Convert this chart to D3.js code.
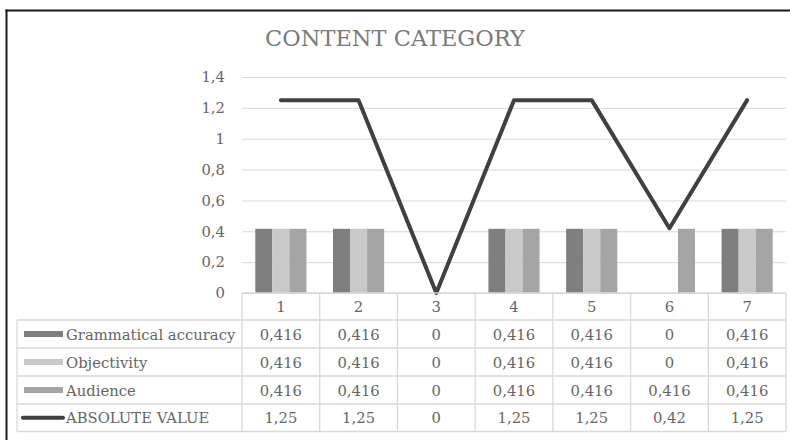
<!DOCTYPE html>
<html>
<head>
<meta charset="utf-8">
<script src="https://cdn.jsdelivr.net/npm/d3@7"></script>
<style>
  html, body { margin: 0; padding: 0; background: #fff; overflow: hidden; }
  svg { display: block; }
  text { font-family: "DejaVu Serif", "Liberation Serif", serif; fill: #666666; }
</style>
</head>
<body>
<svg id="chart" width="790" height="440"></svg>
<script>
// Chart data
const categories = ["1", "2", "3", "4", "5", "6", "7"];
const grammatical = [0.416, 0.416, 0, 0.416, 0.416, 0, 0.416];
const objectivity = [0.416, 0.416, 0, 0.416, 0.416, 0, 0.416];
const audience = [0.416, 0.416, 0, 0.416, 0.416, 0.416, 0.416];
const absoluteValue = [1.25, 1.25, 0, 1.25, 1.25, 0.42, 1.25];
const absoluteLabels = ["1,25", "1,25", "0", "1,25", "1,25", "0,42", "1,25"];
const yTicks = [0, 0.2, 0.4, 0.6, 0.8, 1, 1.2, 1.4];

const barSeries = [
  { name: "Grammatical accuracy", values: grammatical, color: "#7f7f7f" },
  { name: "Objectivity", values: objectivity, color: "#c9c9c9" },
  { name: "Audience", values: audience, color: "#a5a5a5" }
];
const lineSeries = { name: "ABSOLUTE VALUE", values: absoluteValue, labels: absoluteLabels, color: "#404040" };

const fmt = v => String(v).replace(".", ",");
const FS = "14.8px";

const svg = d3.select("#chart");

// Chart frame: only its top and left edges fall inside the view
svg.append("line").attr("x1", 5.5).attr("x2", 790).attr("y1", 10.5).attr("y2", 10.5)
  .attr("stroke", "#1a1a1a").attr("stroke-width", 2);
svg.append("line").attr("x1", 6.5).attr("x2", 6.5).attr("y1", 9.5).attr("y2", 440)
  .attr("stroke", "#1a1a1a").attr("stroke-width", 2);

// Title
svg.append("text").attr("x", 395).attr("y", 46).attr("text-anchor", "middle")
  .style("font-size", "22.5px").style("fill", "#7a7a7a").text("CONTENT CATEGORY");

const plotLeft = 242, plotRight = 786, plotTop = 77, plotBottom = 293;
const x = d3.scaleBand().domain(categories).range([plotLeft, plotRight]).paddingInner(0).paddingOuter(0);
const inner = d3.scaleBand().domain(barSeries.map(s => s.name)).range([0, x.bandwidth()]).paddingInner(0).paddingOuter(0.78);
const y = d3.scaleLinear().domain([0, 1.4]).range([plotBottom, plotTop]);

// Gridlines and value axis
const yAxis = d3.axisLeft(y).tickValues(yTicks).tickFormat(fmt).tickSize(-(plotRight - plotLeft)).tickPadding(17);
const yg = svg.append("g").attr("transform", `translate(${plotLeft},0)`).call(yAxis);
yg.select(".domain").remove();
yg.selectAll(".tick line").attr("stroke", "#d9d9d9").attr("stroke-width", 1);
yg.selectAll(".tick text").style("font-size", FS).style("fill", "#666666").attr("font-family", null);

// Bars
barSeries.forEach(s => {
  svg.append("g").selectAll("rect").data(s.values).join("rect")
    .attr("x", (d, i) => x(categories[i]) + inner(s.name))
    .attr("width", inner.bandwidth())
    .attr("y", d => y(d))
    .attr("height", d => y(0) - y(d))
    .attr("fill", s.color);
});

// Line
const line = d3.line().x((d, i) => x(categories[i]) + x.bandwidth() / 2).y(d => y(d));
svg.append("path").datum(lineSeries.values).attr("d", line)
  .attr("fill", "none").attr("stroke", lineSeries.color).attr("stroke-width", 4)
  .attr("stroke-linejoin", "round").attr("stroke-linecap", "round");

// Data table
const tableLeft = 17;
const rowEdges = [293, 320, 348, 376, 404, 431.5];
const rows = [
  ...barSeries.map(s => ({ name: s.name, color: s.color, type: "bar", cells: s.values.map(fmt) })),
  { name: lineSeries.name, color: lineSeries.color, type: "line", cells: lineSeries.labels }
];
const grid = svg.append("g").attr("stroke", "#d9d9d9").attr("stroke-width", 1.3);
grid.append("line").attr("x1", plotLeft).attr("x2", plotRight).attr("y1", rowEdges[0]).attr("y2", rowEdges[0]);
rowEdges.slice(1).forEach(yy => grid.append("line").attr("x1", tableLeft).attr("x2", plotRight).attr("y1", yy).attr("y2", yy));
grid.append("line").attr("x1", tableLeft).attr("x2", tableLeft).attr("y1", rowEdges[1]).attr("y2", rowEdges[5]);
categories.forEach(c => grid.append("line").attr("x1", x(c)).attr("x2", x(c)).attr("y1", rowEdges[0]).attr("y2", rowEdges[5]));
grid.append("line").attr("x1", plotRight).attr("x2", plotRight).attr("y1", rowEdges[0]).attr("y2", rowEdges[5]);

// Category header
svg.append("g").selectAll("text").data(categories).join("text")
  .attr("x", c => x(c) + x.bandwidth() / 2).attr("y", (rowEdges[0] + rowEdges[1]) / 2 + 5.5)
  .attr("text-anchor", "middle").style("font-size", FS).text(c => c);

rows.forEach((r, ri) => {
  const top = rowEdges[ri + 1], bot = rowEdges[ri + 2], mid = (top + bot) / 2;
  if (r.type === "bar") {
    svg.append("rect").attr("x", 24).attr("y", mid - 3).attr("width", 39).attr("height", 6).attr("fill", r.color);
  } else {
    svg.append("line").attr("x1", 23).attr("x2", 63).attr("y1", mid).attr("y2", mid)
      .attr("stroke", r.color).attr("stroke-width", 4).attr("stroke-linecap", "round");
  }
  svg.append("text").attr("x", 66).attr("y", mid + 5.5).style("font-size", FS).text(r.name);
  svg.append("g").selectAll("text").data(r.cells).join("text")
    .attr("x", (d, i) => x(categories[i]) + x.bandwidth() / 2).attr("y", mid + 5.5)
    .attr("text-anchor", "middle").style("font-size", FS).text(d => d);
});
</script>
</body>
</html>
